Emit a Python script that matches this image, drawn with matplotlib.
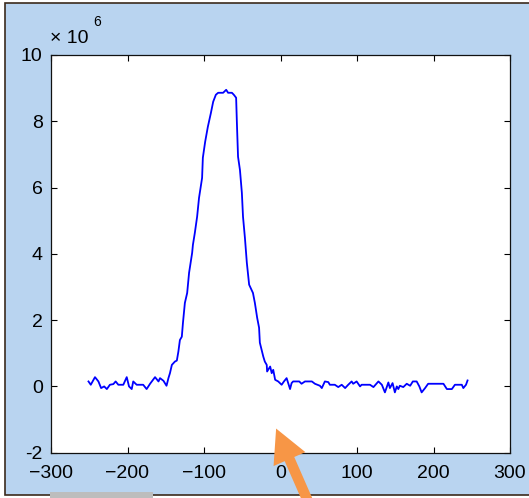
import numpy as np
import matplotlib
matplotlib.use('Agg')
import matplotlib.pyplot as plt
from matplotlib.patches import Rectangle, FancyArrowPatch
from matplotlib.ticker import FuncFormatter

plt.rcParams['font.family'] = ['Liberation Sans', 'DejaVu Sans']

# signal, values in units of 1e6
x_left = [-251, -248, -242.5, -238, -234.5, -230.5, -227, -223, -218.5, -215.5,
          -212, -205.5, -201, -198, -194.5, -192.5, -188, -179.5, -175, -170.5,
          -164, -159.5, -157.5, -153, -149, -146.5, -144.5, -142, -138, -135.5]
y_left = [0.15, 0.05, 0.28, 0.15, -0.05, 0.0, -0.08, 0.05, 0.07, 0.15,
          0.05, 0.05, 0.28, 0.0, -0.08, 0.15, 0.05, 0.05, -0.08, 0.08,
          0.28, 0.15, 0.25, 0.17, 0.02, 0.25, 0.40, 0.65, 0.75, 0.78]

x_peak = [-133.5, -131.5, -129, -127.5, -125, -122, -119.5, -115.5, -114.5, -112,
          -109, -106.5, -102.5, -101.5, -98.5, -95, -91, -88, -84.5, -81.5,
          -75, -71, -68.5, -63.5, -61, -58, -57, -55.5, -53, -50.5,
          -49, -46.5, -44, -41, -36, -33.5, -30.5, -28, -27, -22.5,
          -20.5, -18, -17.5, -13.5, -11.5, -9.5, -7]
y_peak = [1.05, 1.40, 1.50, 1.92, 2.52, 2.82, 3.43, 4.03, 4.27, 4.63,
          5.12, 5.69, 6.29, 6.90, 7.38, 7.83, 8.25, 8.59, 8.80, 8.86,
          8.86, 8.95, 8.86, 8.86, 8.80, 8.71, 7.95, 6.93, 6.53, 5.84,
          5.12, 4.48, 3.73, 3.07, 2.82, 2.52, 2.07, 1.77, 1.32, 0.90,
          0.75, 0.65, 0.45, 0.60, 0.40, 0.50, 0.20]

x_right = [-3, 1.5, 4.5, 8, 10, 12.5, 14.5, 16.5, 24.5, 27.5,
           32, 41, 45, 51.5, 54, 58, 62.5, 64.5, 71, 75.5,
           80, 84.5, 88.5, 93, 95, 99.5, 104, 106, 117, 121.5,
           128, 132.5, 136.5, 141, 143, 146.5, 149.5, 152, 154, 156,
           160.5, 165, 169.5, 173, 178, 181.5, 184.5, 189, 193, 206,
           213, 217.5, 224, 228, 237, 239, 242.5, 244.5]
y_right = [0.15, 0.05, 0.15, 0.25, 0.10, -0.08, 0.10, 0.15, 0.15, 0.08,
           0.15, 0.15, 0.08, 0.02, -0.05, 0.15, 0.13, 0.05, 0.05, -0.02,
           0.05, -0.05, 0.05, 0.15, 0.08, 0.15, 0.0, 0.05, 0.05, -0.02,
           0.15, 0.05, -0.18, 0.12, -0.05, 0.10, -0.18, 0.0, -0.08, 0.02,
           -0.02, 0.08, 0.02, 0.15, 0.15, 0.0, -0.18, -0.05, 0.08, 0.08,
           0.08, -0.08, -0.08, 0.05, 0.05, -0.05, 0.05, 0.18]

x_ticks = [-300, -200, -100, 0, 100, 200, 300]
y_ticks = [-2, 0, 2, 4, 6, 8, 10]

x = np.array(x_left + x_peak + x_right)
y = np.array(y_left + y_peak + y_right) * 1e6

W, H = 529, 498
fig = plt.figure(figsize=(W / 100, H / 100), dpi=100, facecolor='white')

# matlab-ish figure window background
bg = Rectangle((4.5 / W, 3 / H), (W - 2) / W, 492 / H, transform=fig.transFigure,
               facecolor='#B9D4F0', edgecolor='#3b2a1c', linewidth=1.2, zorder=-1)
fig.add_artist(bg)

ax = fig.add_axes([51 / W, 45.3 / H, 459 / W, 397.7 / H])
ax.plot(x, y, color='#0000FF', linewidth=1.3)

ax.set_xlim(-300, 300)
ax.set_ylim(-2e6, 10e6)
ax.set_xticks(x_ticks)
ax.set_yticks([v * 1e6 for v in y_ticks])
ax.yaxis.set_major_formatter(FuncFormatter(lambda v, p: '%d' % round(v / 1e6)))
ax.tick_params(direction='in', length=4.5, width=0.8, top=True, right=True,
               labelsize=14, colors='black')
ax.tick_params(axis='x', pad=8.5)
ax.tick_params(axis='y', pad=6)
for s in ax.spines.values():
    s.set_linewidth(0.9)
    s.set_color('#111111')

# exponent label
fig.text(50 / W, (H - 43) / H, u'\u00d7 10', fontsize=14, va='baseline', ha='left')
fig.text(93 / W, (H - 26) / H, '6', fontsize=10, va='baseline', ha='left')

# orange arrow pointing at the axis
arr = FancyArrowPatch((310 / 100, -8 / 100), (275 / 100, (H - 426) / 100),
                      transform=fig.dpi_scale_trans,
                      arrowstyle='simple,head_length=24,head_width=25,tail_width=7.5',
                      mutation_scale=1, color='#F79646', linewidth=0, zorder=10)
fig.add_artist(arr)

# gray strip cut off at the bottom
fig.add_artist(Rectangle((50 / W, 0), 103 / W, 6 / H, transform=fig.transFigure,
                         facecolor='#BDBDBD', edgecolor='none', zorder=5))

fig.savefig('out.png', dpi=100, facecolor=fig.get_facecolor())
